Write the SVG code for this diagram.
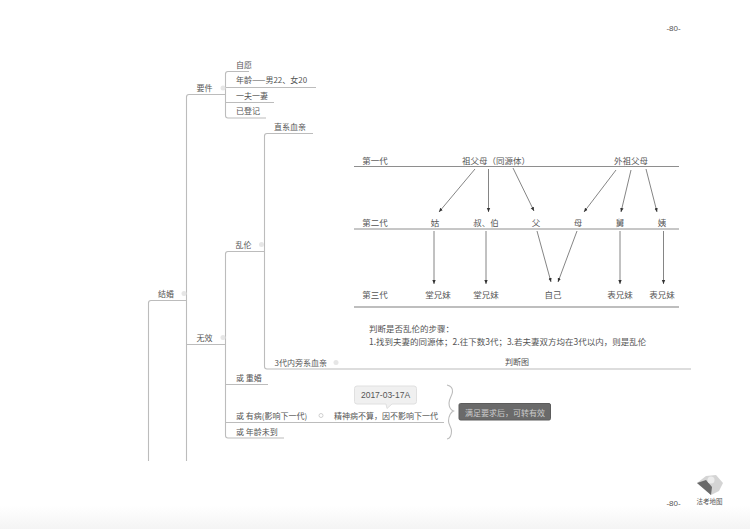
<svg xmlns="http://www.w3.org/2000/svg" width="750" height="529" viewBox="0 0 750 529">
<style>
text{font-family:"Noto Sans CJK SC","Liberation Sans",sans-serif;font-size:8px;fill:#555;dominant-baseline:central}
#table-text text{font-size:8.500px}
.m{text-anchor:middle}
.l{fill:none;stroke:#bcbcbc;stroke-width:1.100}
.t{fill:none;stroke:#8e8e8e;stroke-width:1}
.a{fill:none;stroke:#666;stroke-width:.8;marker-end:url(#ah)}
.d{fill:#e6e6e6}
</style>
<defs>
<marker id="ah" markerWidth="5" markerHeight="5" refX="4" refY="2" orient="auto" markerUnits="userSpaceOnUse"><path d="M0,0.300L4,2L0,3.700Z" fill="#333"/></marker>
<linearGradient id="fade" x1="0" y1="0" x2="0" y2="1"><stop offset="0" stop-color="#fff"/><stop offset="1" stop-color="#f4f4f4"/></linearGradient>
</defs>
<rect width="750" height="529" fill="#fff"/>
<rect y="506" width="750" height="23" fill="url(#fade)"/>
<g id="connectors">
<path class="l" d="M148.500 461V303Q148.500 300.500 151 300.500H186.500"/>
<path class="l" d="M186.500 461V97Q186.500 94.500 189 94.500H225.500"/>
<path class="l" d="M187 344.500H225.500"/>
<path class="l" d="M225.500 94V74Q225.500 71.500 228 71.500H249"/>
<path class="l" d="M225.500 87.500H316"/>
<path class="l" d="M225.500 94V115.500Q225.500 118 228 118H266"/>
<path class="l" d="M225.500 102.500H274"/>
<path class="l" d="M225.500 344V254Q225.500 251.500 228 251.500H264"/>
<path class="l" d="M225.500 344V435.500Q225.500 438 228 438H284"/>
<path class="l" d="M225.500 384.500H268"/>
<path class="l" d="M225.500 422.500H444"/>
<path class="l" d="M264.500 251V136Q264.500 133.500 267 133.500H313"/>
<path class="l" d="M264.500 251V366.500Q264.500 369 267 369H691"/>
<path class="a" d="M475 169L439 212"/>
<path class="a" d="M488.500 169V212"/>
<path class="a" d="M513 168L534 211"/>
<path class="a" d="M616 170L584 212"/>
<path class="a" d="M631 170L621 212"/>
<path class="a" d="M646 169L657 212"/>
<path class="a" d="M434 231V284"/>
<path class="a" d="M486 231V284"/>
<path class="a" d="M537 231L551 282"/>
<path class="a" d="M577 231L558 282"/>
<path class="a" d="M620 231V284"/>
<path class="a" d="M663.500 231V284"/>
<path class="l" d="M447 385C451 386 453 388 452.500 392C452 396 449 399 449 403C449 407 451 410 453.500 411C451 412 448.500 416 448.500 421C448.500 425 451.500 427 451.500 431C451.500 436 450 438.500 447 439"/>
</g>
<g id="table-lines">
<path class="t" d="M354 166.500H679M354 229H679"/>
<path d="M354 307H679" stroke="#a8a8a8" stroke-width="1.300"/>
</g>
<g id="n-jiehun"><text x="166" y="293" class="m">结婚</text><circle class="d" cx="184" cy="293.500" r="2.500"/></g>
<g id="n-yaojian"><text x="204.500" y="87" class="m">要件</text><circle class="d" cx="223" cy="88" r="2.500"/></g>
<g id="n-wuxiao"><text x="204.500" y="337" class="m">无效</text><circle class="d" cx="223" cy="337.500" r="2.500"/></g>
<g id="n-ziyuan"><text x="236" y="64">自愿</text></g>
<g id="n-nianling"><text x="236" y="79.500">年龄——男22、女20</text></g>
<g id="n-yifu"><text x="236" y="95">一夫一妻</text></g>
<g id="n-dengji"><text x="236" y="110.500">已登记</text></g>
<g id="n-zhixi"><text x="290" y="126" class="m">直系血亲</text></g>
<g id="n-luanlun"><text x="235.500" y="244">乱伦</text><circle class="d" cx="261.500" cy="244.500" r="2.500"/></g>
<g id="n-pangxi"><text x="274.500" y="362">3代内旁系血亲</text><circle class="d" cx="336" cy="362.500" r="2.500"/></g>
<g id="n-panduantu"><text x="517" y="361.500" class="m">判断图</text></g>
<g id="n-chonghun"><text x="236" y="377.500">或 重婚</text></g>
<g id="n-youbing"><text x="236" y="415.500">或 有病(影响下一代)</text><circle cx="321" cy="415.500" r="2" fill="#fff" stroke="#d0d0d0" stroke-width="1"/></g>
<g id="n-weidao"><text x="236" y="431.500">或 年龄未到</text></g>
<g id="n-jingshen"><text x="334" y="415.500">精神病不算，因不影响下一代</text></g>
<g id="n-callout"><path d="M357 386H414Q416.500 386 416.500 388.500V401.500Q416.500 404 414 404H392L387 408.500L386 404H357Q354.500 404 354.500 401.500V388.500Q354.500 386 357 386Z" fill="#f0f0f0" stroke="#e0e0e0"/><text x="385.500" y="395" class="m" style="font-family:'Liberation Sans',sans-serif;font-size:8.500px">2017-03-17A</text></g>
<g id="n-result"><rect x="459" y="403.500" width="91.500" height="16.500" rx="1.500" fill="#6a6a6a" stroke="#5c5c5c"/><text x="505" y="412" class="m" style="font-family:'Noto Sans CJK SC',serif;fill:#ccc">满足要求后，可转有效</text></g>
<g id="table-text">
<text x="375" y="159.500" class="m">第一代</text>
<text x="496" y="159.500" class="m">祖父母（同源体）</text>
<text x="631" y="159.500" class="m">外祖父母</text>
<text x="375" y="221.500" class="m">第二代</text>
<text x="435" y="221.500" class="m">姑</text>
<text x="486" y="221.500" class="m">叔、伯</text>
<text x="536" y="221.500" class="m">父</text>
<text x="578" y="221.500" class="m">母</text>
<text x="620" y="221.500" class="m">舅</text>
<text x="662" y="221.500" class="m">姨</text>
<text x="375" y="293.500" class="m">第三代</text>
<text x="438" y="293.500" class="m">堂兄妹</text>
<text x="486" y="293.500" class="m">堂兄妹</text>
<text x="553" y="293.500" class="m">自己</text>
<text x="620" y="293.500" class="m">表兄妹</text>
<text x="662" y="293.500" class="m">表兄妹</text>
<text x="369" y="327.500">判断是否乱伦的步骤：</text>
<text x="369" y="340.500">1.找到夫妻的同源体；2.往下数3代；3.若夫妻双方均在3代以内，则是乱伦</text>
</g>
<g id="page">
<text x="673.500" y="28" class="m" style="font-family:'Liberation Sans',sans-serif">-80-</text>
<text x="673.500" y="503.500" class="m" style="font-family:'Liberation Sans',sans-serif">-80-</text>
<text x="709.500" y="501" class="m" style="font-size:6.500px">法考地图</text>
<path d="M697 483L706 476L716 475L723 483L719 491L711 495L704 489Z" fill="#d4d4d4"/>
<path d="M697 483L706 480L712 487L711 495L704 489Z" fill="#6a6a6a"/>
<circle cx="711" cy="480" r="3.500" fill="#ececec"/>
</g>
</svg>
